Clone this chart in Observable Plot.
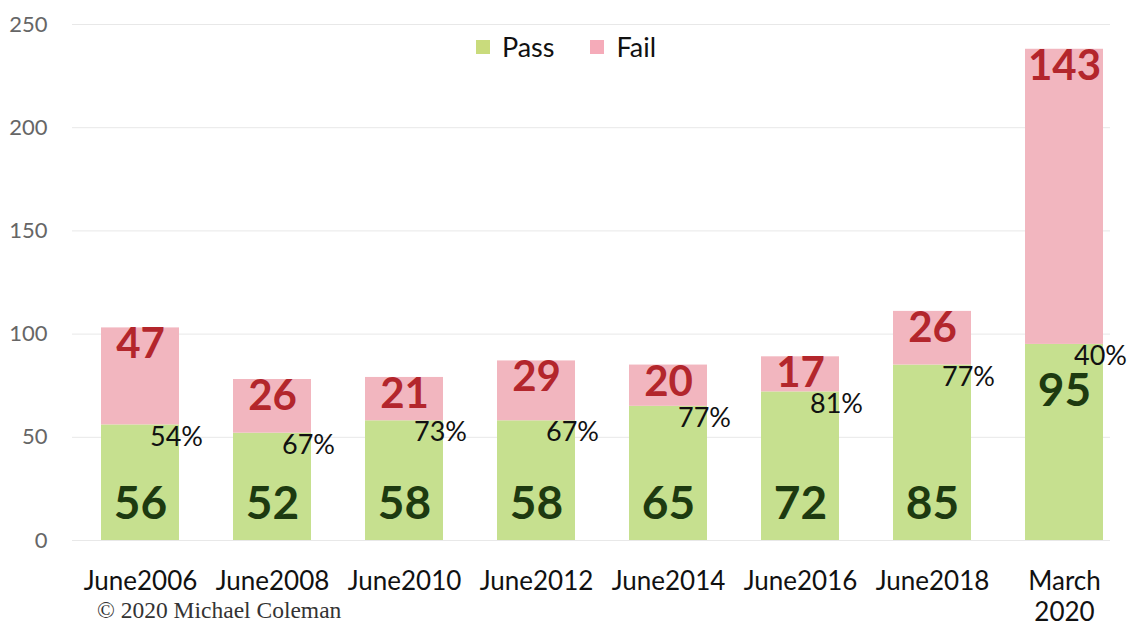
<!DOCTYPE html>
<html>
<head>
<meta charset="utf-8">
<script src="https://cdn.jsdelivr.net/npm/d3@7"></script>
<script src="https://cdn.jsdelivr.net/npm/@observablehq/plot@0.6"></script>
<style>
  html, body { margin: 0; padding: 0; background: #fff; }
  #wrap { position: relative; width: 1128px; height: 627px; overflow: hidden; font-family: Lato, "Open Sans", sans-serif; }
  #legend { position: absolute; top: 30px; left: 0; width: 1128px; display: flex; justify-content: center; gap: 36px; font-size: 27px; color: #111; padding-left: 4px; box-sizing: border-box; }
  #legend .item { display: flex; align-items: center; gap: 12px; }
  #legend .sw { width: 14px; height: 14px; display: inline-block; }
  #caption { position: absolute; left: 97px; top: 597px; font-family: "Liberation Serif", "DejaVu Serif", serif; font-size: 23.5px; color: #333; }
</style>
</head>
<body>
<div id="wrap">
  <div id="chart"></div>
  <div id="legend"></div>
  <div id="caption">© 2020 Michael Coleman</div>
</div>
<script>
const categories = ["June2006","June2008","June2010","June2012","June2014","June2016","June2018","March 2020"];
const passValues = [56, 52, 58, 58, 65, 72, 85, 95];
const failValues = [47, 26, 21, 29, 20, 17, 26, 143];
const passRates = ["54%","67%","73%","67%","77%","81%","77%","40%"];
const seriesNames = ["Pass", "Fail"];
const yTicks = [0, 50, 100, 150, 200, 250];

const barColors = ["#c6e08f", "#f2b6bf"];
const legendColors = ["#c9db7c", "#f5abb9"];

const rows = categories.flatMap((c, i) => [
  {category: c, status: seriesNames[0], value: passValues[i]},
  {category: c, status: seriesNames[1], value: failValues[i]}
]);
const summary = categories.map((c, i) => ({
  category: c, pass: passValues[i], fail: failValues[i],
  total: passValues[i] + failValues[i], rate: passRates[i]
}));
const lastCat = categories[categories.length - 1];

const chart = Plot.plot({
  width: 1128,
  height: 627,
  marginTop: 24,
  marginBottom: 87,
  marginLeft: 72,
  marginRight: 18,
  style: {fontFamily: "Lato, 'Open Sans', sans-serif", background: "transparent"},
  x: {domain: categories, range: [72, 1131], paddingInner: 0.41, paddingOuter: 0.205, label: null},
  y: {domain: [0, 250], label: null},
  color: {domain: seriesNames, range: barColors},
  marks: [
    Plot.ruleY(yTicks, {stroke: "#e8e8e8", strokeWidth: 1}),
    Plot.barY(rows, {x: "category", y: "value", fill: "status"}),
    Plot.axisY(yTicks, {tickSize: 0, tickPadding: 25, fontSize: 22, color: "#666", label: null}),
    Plot.axisX({tickSize: 0, tickPadding: 27, fontSize: 26, color: "#111", lineHeight: 1.2,
      tickFormat: d => d.replace(" ", "\n"), label: null}),
    // fail counts (top of pink segment)
    Plot.text(summary, {x: "category", y: "total", text: d => String(d.fail), dy: 17,
      fontSize: 42, fontWeight: "bold", fill: "#b3262c"}),
    // pass counts
    Plot.text(summary.filter(d => d.category !== lastCat), {x: "category", y: d => 0, text: d => String(d.pass), dy: -36,
      fontSize: 46, fontWeight: "bold", fill: "#1d3a10"}),
    Plot.text(summary.filter(d => d.category === lastCat), {x: "category", y: "pass", text: d => String(d.pass), dy: 47,
      fontSize: 46, fontWeight: "bold", fill: "#1d3a10"}),
    // pass rate
    Plot.text(summary, {x: "category", y: "pass", text: "rate", dx: 36, dy: 12,
      fontSize: 27, fill: "#111"})
  ]
});
document.getElementById("chart").appendChild(chart);

const legend = document.getElementById("legend");
seriesNames.forEach((name, i) => {
  const item = document.createElement("div");
  item.className = "item";
  const sw = document.createElement("span");
  sw.className = "sw";
  sw.style.background = legendColors[i];
  const label = document.createElement("span");
  label.textContent = name;
  item.appendChild(sw);
  item.appendChild(label);
  legend.appendChild(item);
});
</script>
</body>
</html>
